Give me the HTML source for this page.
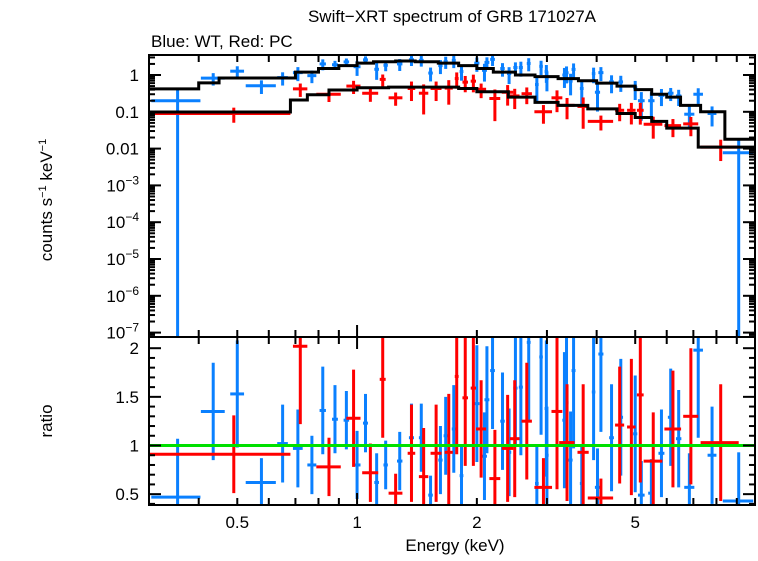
<!DOCTYPE html>
<html><head><meta charset="utf-8"><style>
body{margin:0;background:#fff}
svg text{font-family:"Liberation Sans",sans-serif;fill:#000}
</style></head><body>
<svg id="c" width="758" height="556" viewBox="0 0 758 556" xmlns="http://www.w3.org/2000/svg">
<text x="452" y="22" text-anchor="middle" font-size="17">Swift−XRT spectrum of GRB 171027A</text>
<text x="151" y="47" font-size="17">Blue: WT, Red: PC</text>
<text transform="translate(52,200) rotate(-90)" text-anchor="middle" font-size="17">counts s<tspan baseline-shift="super" font-size="11">−1</tspan> keV<tspan baseline-shift="super" font-size="11">−1</tspan></text>
<text transform="translate(52,421) rotate(-90)" text-anchor="middle" font-size="17">ratio</text>
<text x="455" y="551" text-anchor="middle" font-size="17">Energy (keV)</text>
<g id="g"></g>
</svg>
<script>
// ---- data ----
const blueE  = [0.354,0.435,0.5,0.575,0.65,0.71,0.77,0.82,0.88,0.94,1.0,1.05,1.12,1.18,1.28,1.37,1.45,1.53,1.62,1.67,1.75,1.83,2.0,2.09,2.12,2.19,2.32,2.41,2.5,2.58,2.7,2.83,2.9,2.99,3.0,3.32,3.36,3.44,3.5,3.67,3.93,4.02,4.1,4.36,4.6,5.0,5.18,5.49,5.82,6.14,6.43,6.84,7.2,7.8,9.1];
const blueHW = [0.05,0.03,0.02,0.05,0.02,0.02,0.02,0.015,0.015,0.015,0.02,0.015,0.015,0.015,0.02,0.02,0.02,0.02,0.02,0.02,0.02,0.02,0.03,0.03,0.03,0.03,0.03,0.03,0.03,0.03,0.03,0.03,0.03,0.03,0.03,0.04,0.04,0.04,0.04,0.04,0.04,0.06,0.06,0.06,0.06,0.06,0.1,0.1,0.1,0.1,0.1,0.2,0.2,0.2,0.8];
const blueCounts = [0.2,0.82,1.27,0.51,0.85,1.16,0.96,2.0,1.9,2.27,1.68,2.58,1.43,1.84,2.0,2.6,2.5,1.13,1.8,2.3,2.5,1.24,2.1,1.34,2.2,2.66,1.5,1.1,1.6,1.6,2.06,0.55,1.72,1.24,0.81,1.0,1.15,0.68,1.42,0.43,1.09,0.34,1.16,0.65,0.65,0.45,0.2,0.2,0.28,0.32,0.27,0.086,0.3,0.09,0.0077];
const blueRatio = [0.47,1.35,1.53,0.62,1.02,0.97,0.8,1.36,1.27,1.26,0.8,1.23,0.62,0.8,0.84,1.08,1.08,0.49,0.85,1.1,1.17,0.69,1.43,0.89,1.47,1.77,1.25,0.93,1.59,1.6,2.06,0.61,1.91,1.38,0.9,1.26,1.44,0.85,1.77,0.61,1.55,0.57,1.94,1.08,1.29,1.12,0.49,0.51,0.92,1.29,1.07,0.57,1.98,0.9,0.43];
const blueRatioErr = [0.6,0.5,0.55,0.25,0.4,0.4,0.3,0.45,0.35,0.3,0.35,0.3,0.3,0.25,0.3,0.35,0.35,0.2,0.35,0.4,0.45,0.3,0.6,0.45,0.55,0.6,0.5,0.45,0.6,0.7,0.8,0.4,0.8,0.7,0.5,0.7,0.7,0.5,0.8,0.4,0.7,0.4,0.8,0.55,0.6,0.6,0.35,0.35,0.45,0.5,0.5,0.35,0.9,0.5,0.5];
const redE  = [0.49,0.72,0.85,0.98,1.08,1.16,1.25,1.37,1.47,1.58,1.7,1.78,1.87,1.96,2.05,2.22,2.39,2.49,2.67,2.94,3.18,3.37,3.7,4.1,4.57,4.89,5.15,5.55,6.22,6.9,8.2];
const redHW = [0.19,0.03,0.06,0.04,0.05,0.02,0.05,0.03,0.04,0.05,0.04,0.02,0.03,0.03,0.06,0.07,0.08,0.07,0.08,0.15,0.1,0.15,0.12,0.3,0.12,0.12,0.1,0.3,0.3,0.3,0.9];
const redCounts = [0.09,0.42,0.3,0.5,0.32,0.76,0.24,0.43,0.32,0.43,0.44,0.8,0.64,0.68,0.41,0.23,0.34,0.27,0.31,0.1,0.24,0.15,0.14,0.055,0.11,0.11,0.11,0.046,0.042,0.047,0.011];
const redRatio = [0.91,2.02,0.78,1.28,0.72,1.68,0.51,0.92,0.68,0.92,0.93,1.71,1.49,1.59,1.17,0.66,0.97,1.07,1.25,0.57,1.35,1.03,0.93,0.46,1.21,1.19,1.52,0.84,1.17,1.3,1.03];
const redRatioErr = [0.4,0.8,0.3,0.5,0.3,0.6,0.2,0.5,0.5,0.5,0.6,0.8,0.7,0.8,0.5,0.5,0.55,0.6,0.6,0.3,0.8,0.6,0.7,0.2,0.6,0.7,0.9,0.5,0.6,0.7,0.6];
const blueModelEdges = [0.3,0.4,0.45,0.6,0.7,0.8,0.9,1.0,1.1,1.25,1.4,1.6,1.8,2.0,2.2,2.5,2.8,3.2,3.6,4.0,4.5,5.0,5.5,6.0,6.5,7.3,8.4,10];
const blueModel = [0.42,0.61,0.83,0.83,1.2,1.5,1.8,2.1,2.3,2.4,2.3,2.1,1.8,1.5,1.2,1.0,0.9,0.8,0.7,0.6,0.5,0.4,0.3,0.25,0.15,0.1,0.018];
const redModelEdges = [0.3,0.68,0.75,0.85,1.0,1.2,1.5,1.8,2.0,2.4,2.8,3.2,3.8,4.5,5.0,5.5,6.0,7.2,10];
const redModel = [0.099,0.21,0.29,0.39,0.45,0.47,0.47,0.43,0.35,0.25,0.18,0.15,0.12,0.09,0.07,0.055,0.036,0.011];
const xTickLabels = ["0.5","1","2","5"];
const xTickVals = [0.5,1,2,5];
const yTickVals = [1,0.1,0.01,1e-3,1e-4,1e-5,1e-6,1e-7];
const rTickVals = [0.5,1,1.5,2];

// ---- axes ----
const L=149,R=755,T=55,MID=337,B=505;
const xMin=0.3,xMax=10;
const X=e=>L+(Math.log10(e)-Math.log10(xMin))/(Math.log10(xMax)-Math.log10(xMin))*(R-L);
const Y=v=>75-Math.log10(v)*36.8;
const RY=r=>445.5-(r-1)*97.3;
const clampY=(y,a,b)=>Math.max(a,Math.min(b,y));
const g=document.getElementById('g');
const NS='http://www.w3.org/2000/svg';
function el(tag,attrs,parent){const e=document.createElementNS(NS,tag);for(const k in attrs)e.setAttribute(k,attrs[k]);(parent||g).appendChild(e);return e;}
function line(x1,y1,x2,y2,c,w,name){const e=el('line',{x1,y1,x2,y2,stroke:c,'stroke-width':w});


return e;}

// model steps
function steps(edges,vals,name){let d='';for(let i=0;i<vals.length;i++){const y=Y(vals[i]);d+=(i?'L':'M')+X(edges[i])+','+y+'L'+X(edges[i+1])+','+y;}
const p=el('path',{d,fill:'none',stroke:'#000','stroke-width':3});

}

function points(E,HW,C,Rt,Re,color,nm){
for(let i=0;i<E.length;i++){
 const x1=X(Math.max(xMin,E[i]-HW[i])),x2=X(Math.min(xMax,E[i]+HW[i])),x=X(E[i]);
 const frac=Re[i]/Rt[i];
 const y=Y(C[i]);
 const ylo=C[i]*(1-frac)>0?Y(C[i]*(1-frac)):MID;
 const yhi=Y(C[i]*(1+frac));
 line(x1,y,x2,y,color,3,nm+'-spectrum-xerr');
 line(x,clampY(yhi,T,MID),x,clampY(ylo,T,MID),color,3,nm+'-spectrum-yerr');
 const ry=RY(Rt[i]);
 line(x1,clampY(ry,MID,B),x2,clampY(ry,MID,B),color,3,nm+'-ratio-xerr');
 line(x,clampY(RY(Rt[i]+Re[i]),MID,B),x,clampY(RY(Rt[i]-Re[i]),MID,B),color,3,nm+'-ratio-yerr');
}}
points(blueE,blueHW,blueCounts,blueRatio,blueRatioErr,'#0a80ff','wt');
points(redE,redHW,redCounts,redRatio,redRatioErr,'#ff0000','pc');
steps(blueModelEdges,blueModel,'wt-model');
steps(redModelEdges,redModel,'pc-model');
line(L,RY(1),R,RY(1),'#00e000',3,'unity-line');

// frames
const f1=el('rect',{x:L,y:T,width:R-L,height:MID-T,fill:'none',stroke:'#000','stroke-width':2});


const f2=el('rect',{x:L,y:MID,width:R-L,height:B-MID,fill:'none',stroke:'#000','stroke-width':2});



// x ticks
const minor=[0.3,0.4,0.5,0.6,0.7,0.8,0.9,1,2,3,4,5,6,7,8,9];
for(const v of minor){const x=X(v);const big=[1].includes(v)?12:7;
 for(const [a,b] of [[T,MID],[MID,B]]){line(x,a,x,a+big,'#000',2,'x-tick');line(x,b,x,b-big,'#000',2,'x-tick');}}
xTickVals.forEach((v,i)=>{const t=el('text',{x:X(v),y:528,'text-anchor':'middle','font-size':17});t.textContent=xTickLabels[i];

});

// y ticks top
for(let d=-8;d<=0;d++){for(let m=1;m<10;m++){const v=m*Math.pow(10,d);const y=Y(v);if(y<T||y>MID)continue;const len=m==1?12:6;
 line(L,y,L+len,y,'#000',2,'y-tick');line(R,y,R-len,y,'#000',2,'y-tick');}}
const yLab=['1','0.1','0.01','10','10','10','10','10'];const yExp=['','','','−3','−4','−5','−6','−7'];
yTickVals.forEach((v,i)=>{const t=el('text',{x:139,y:Y(v)+6,'text-anchor':'end','font-size':17});


if(yExp[i]){t.appendChild(document.createTextNode(yLab[i]));const s=el('tspan',{'font-size':12,dy:-7},t);s.textContent=yExp[i];}else t.textContent=yLab[i];});
// ratio ticks
for(let r=0.4;r<=2.1;r+=0.1){const y=RY(r);if(y<MID||y>B)continue;const big=Math.abs(r*2-Math.round(r*2))<0.01;const len=big?12:6;
 line(L,y,L+len,y,'#000',2,'ratio-tick');line(R,y,R-len,y,'#000',2,'ratio-tick');}
rTickVals.forEach(v=>{const t=el('text',{x:139,y:RY(v)+6,'text-anchor':'end','font-size':17});t.textContent=String(v);

});
</script>
</body></html>
